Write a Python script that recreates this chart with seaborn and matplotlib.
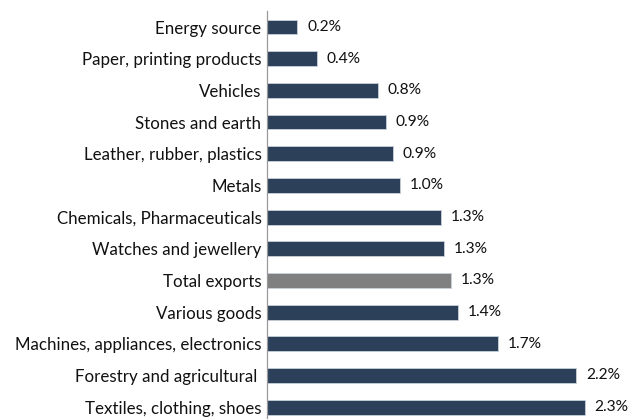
import matplotlib
matplotlib.use("Agg")
import matplotlib.pyplot as plt
import seaborn as sns
import pandas as pd

# Export growth by product group (percent)
categories = [
    "Energy source",
    "Paper, printing products",
    "Vehicles",
    "Stones and earth",
    "Leather, rubber, plastics",
    "Metals",
    "Chemicals, Pharmaceuticals",
    "Watches and jewellery",
    "Total exports",
    "Various goods",
    "Machines, appliances, electronics",
    "Forestry and agricultural ",
    "Textiles, clothing, shoes",
]
values = [0.22, 0.36, 0.80, 0.86, 0.91, 0.96, 1.26, 1.28, 1.33, 1.38, 1.67, 2.24, 2.30]

NAVY = "#253F60"
GREY = "#808080"
colors = [GREY if c == "Total exports" else NAVY for c in categories]

df = pd.DataFrame({"category": categories, "value": values})

sns.set_theme(style="white")
plt.rcParams["font.family"] = ["Lato", "DejaVu Sans"]

fig = plt.figure(figsize=(6.4, 4.19), dpi=100)
ax = fig.add_axes([0.4172, -0.0095, 0.5828, 0.9828])

sns.barplot(data=df, x="value", y="category", hue="category", palette=colors,
            legend=False, width=0.47, ax=ax, edgecolor="#c8d0dc", linewidth=0.6)

ax.set_xlim(0, 2.7)
ax.set_ylim(len(categories) - 0.5, -0.5)

for i, v in enumerate(values):
    ax.text(v + 0.07, i, f"{v:.1f}%", va="center", ha="left",
            fontsize=11.2, color="#111111")

ax.set_xlabel("")
ax.set_ylabel("")
ax.set_xticks([])
ax.tick_params(axis="y", length=0, labelsize=12.2, labelcolor="#111111", pad=4)

# Category separators as small tick marks on the left axis
ax.set_yticks([i - 0.5 for i in range(len(categories) + 1)], minor=True)
ax.tick_params(axis="y", which="minor", length=4, color="#999999", width=0.9)

for side in ["top", "right", "bottom"]:
    ax.spines[side].set_visible(False)
ax.spines["left"].set_color("#999999")
ax.spines["left"].set_linewidth(0.9)

fig.savefig("out.png", dpi=100)
